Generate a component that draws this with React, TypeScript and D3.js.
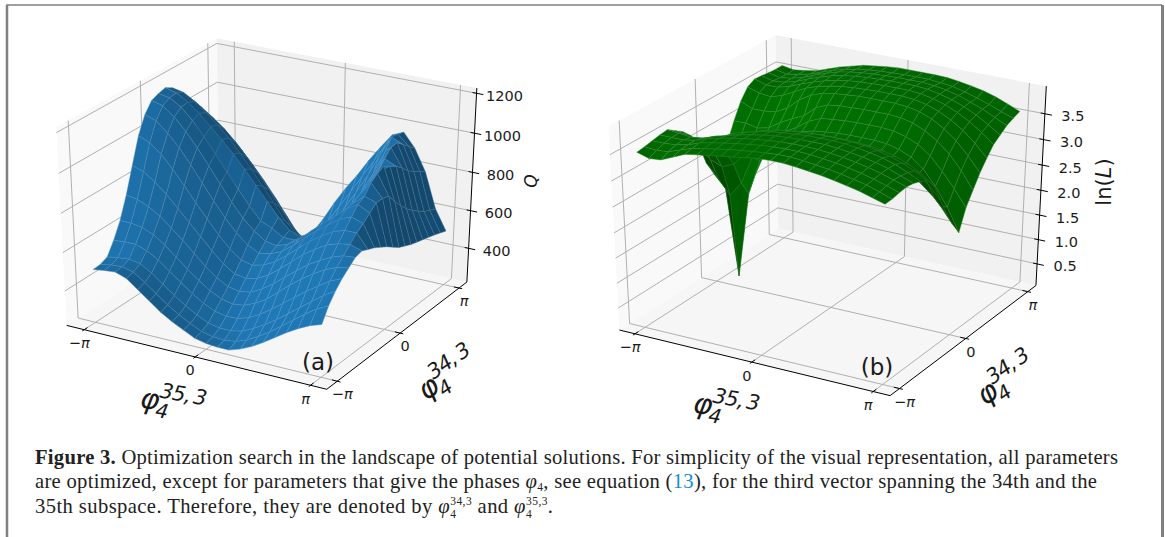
import React from "react";
import * as d3 from "d3";

// surface heights, one row per phi34 step (front to back), one column per phi35 step
const qRows = [
  [497, 505, 510, 490, 445, 400, 355, 320, 290, 261, 248, 243, 242, 262, 290, 325, 365, 405, 440, 470, 490],
  [500, 510, 515, 500, 460, 415, 370, 332, 300, 272, 258, 255, 262, 285, 318, 355, 400, 445, 490, 530, 560],
  [515, 525, 530, 520, 485, 440, 395, 355, 320, 292, 280, 280, 292, 320, 355, 395, 440, 485, 530, 575, 610],
  [580, 585, 585, 565, 530, 485, 440, 395, 358, 330, 318, 320, 338, 370, 410, 455, 500, 545, 585, 625, 650],
  [660, 660, 650, 625, 585, 535, 485, 440, 400, 370, 358, 365, 390, 425, 475, 525, 570, 610, 645, 670, 680],
  [770, 760, 735, 700, 650, 600, 545, 490, 445, 412, 400, 410, 440, 480, 530, 575, 620, 655, 685, 705, 710],
  [900, 880, 840, 790, 730, 670, 610, 550, 495, 455, 445, 458, 490, 535, 585, 635, 675, 710, 730, 740, 720],
  [1030, 1005, 960, 895, 825, 750, 680, 610, 550, 505, 490, 505, 535, 580, 630, 680, 720, 755, 775, 775, 705],
  [1115, 1095, 1045, 985, 910, 830, 750, 675, 610, 560, 530, 540, 565, 610, 660, 710, 755, 795, 820, 800, 690],
  [1165, 1150, 1105, 1045, 975, 895, 815, 735, 665, 610, 570, 560, 580, 620, 675, 725, 775, 825, 860, 830, 670],
  [1180, 1170, 1135, 1080, 1010, 935, 855, 780, 705, 640, 615, 580, 580, 610, 660, 715, 770, 830, 880, 860, 650],
  [1190, 1175, 1140, 1095, 1040, 985, 925, 860, 790, 720, 650, 595, 570, 590, 640, 700, 770, 850, 925, 860, 625],
  [1170, 1158, 1125, 1080, 1030, 975, 910, 840, 765, 690, 610, 555, 530, 560, 620, 695, 780, 870, 950, 850, 600],
  [1120, 1105, 1075, 1035, 990, 935, 870, 800, 725, 645, 565, 510, 500, 540, 610, 695, 790, 885, 965, 800, 585],
  [1050, 1040, 1010, 970, 925, 870, 805, 735, 660, 580, 500, 460, 475, 530, 610, 705, 805, 905, 945, 760, 570],
  [950, 940, 915, 880, 835, 785, 720, 650, 575, 495, 430, 420, 465, 535, 625, 725, 835, 950, 925, 720, 560],
  [850, 840, 815, 785, 745, 695, 630, 560, 485, 410, 375, 400, 470, 555, 650, 755, 880, 985, 895, 690, 550],
  [750, 740, 720, 690, 650, 600, 535, 470, 395, 345, 350, 415, 505, 600, 700, 810, 935, 990, 860, 665, 540],
  [650, 640, 625, 600, 560, 510, 450, 390, 335, 325, 385, 470, 570, 665, 765, 880, 985, 960, 835, 640, 530],
  [570, 565, 555, 540, 505, 455, 400, 350, 325, 370, 455, 545, 635, 730, 820, 920, 980, 930, 815, 625, 518],
  [500, 520, 520, 500, 460, 410, 350, 310, 340, 430, 530, 620, 700, 790, 870, 945, 970, 900, 790, 610, 505],
];

const lnLRows = [
  [3.5, 3.43, 3.45, 3.55, 3.65, 3.69, 3.72, 3.76, 3.79, 3.83, 3.86, 3.87, 3.87, 3.85, 3.82, 3.79, 3.75, 3.7, 3.65, 3.58, 3.51],
  [3.52, 3.5, 3.52, 3.6, 3.68, 3.72, 3.76, 3.8, 3.83, 3.86, 3.88, 3.9, 3.9, 3.88, 3.85, 3.82, 3.78, 3.73, 3.68, 3.6, 3.52],
  [3.55, 3.55, 3.57, 3.62, 3.7, 3.75, 3.79, 3.83, 3.86, 3.89, 3.91, 3.92, 3.92, 3.91, 3.88, 3.85, 3.81, 3.76, 3.7, 3.63, 3.55],
  [3.58, 3.58, 3.58, 3.62, 3.7, 3.75, 3.8, 3.84, 3.87, 3.9, 3.92, 3.93, 3.93, 3.92, 3.9, 3.87, 3.83, 3.78, 3.72, 3.65, 3.57],
  [3.6, 3.58, 3.55, 3.58, 3.66, 3.72, 3.78, 3.83, 3.87, 3.9, 3.92, 3.93, 3.93, 3.93, 3.91, 3.88, 3.84, 3.79, 3.73, 3.64, 3.55],
  [3.5, 3.47, 3.42, 3.47, 3.58, 3.68, 3.75, 3.81, 3.85, 3.88, 3.9, 3.92, 3.92, 3.92, 3.91, 3.88, 3.84, 3.79, 3.72, 3.62, 3.5],
  [3.4, 3.28, 3.25, 3.28, 3.4, 3.55, 3.66, 3.75, 3.8, 3.83, 3.85, 3.87, 3.87, 3.87, 3.86, 3.84, 3.8, 3.74, 3.66, 3.56, 3.43],
  [3.25, 3.05, 3.0, 3.05, 3.2, 3.32, 3.42, 3.58, 3.7, 3.73, 3.75, 3.77, 3.77, 3.77, 3.76, 3.74, 3.7, 3.64, 3.55, 3.42, 3.25],
  [3.0, 2.75, 2.65, 2.75, 3.0, 3.15, 3.28, 3.42, 3.53, 3.57, 3.58, 3.6, 3.6, 3.6, 3.58, 3.55, 3.5, 3.42, 3.3, 3.15, 2.9],
  [2.55, 2.3, 2.0, 2.3, 2.85, 3.05, 3.2, 3.3, 3.38, 3.41, 3.43, 3.44, 3.44, 3.44, 3.42, 3.38, 3.3, 3.18, 3.0, 2.8, 2.55],
  [2.25, 2.0, 0.27, 2.0, 2.7, 3.0, 3.18, 3.26, 3.3, 3.33, 3.35, 3.36, 3.36, 3.36, 3.34, 3.3, 3.2, 3.05, 2.82, 2.55, 2.25],
  [2.3, 2.3, 2.0, 2.3, 2.85, 3.05, 3.2, 3.32, 3.38, 3.41, 3.43, 3.44, 3.44, 3.44, 3.42, 3.36, 3.26, 3.08, 2.8, 2.45, 2.0],
  [2.7, 2.75, 2.65, 2.75, 3.0, 3.15, 3.28, 3.44, 3.54, 3.57, 3.59, 3.6, 3.6, 3.6, 3.58, 3.52, 3.42, 3.25, 3.0, 2.72, 2.4],
  [3.05, 3.05, 3.0, 3.05, 3.2, 3.32, 3.42, 3.62, 3.72, 3.75, 3.76, 3.77, 3.77, 3.77, 3.75, 3.7, 3.6, 3.45, 3.25, 2.98, 2.65],
  [3.35, 3.25, 3.25, 3.28, 3.4, 3.6, 3.74, 3.82, 3.86, 3.88, 3.9, 3.9, 3.9, 3.9, 3.88, 3.83, 3.74, 3.6, 3.42, 3.18, 2.9],
  [3.55, 3.48, 3.45, 3.52, 3.64, 3.75, 3.83, 3.88, 3.92, 3.94, 3.95, 3.96, 3.96, 3.96, 3.94, 3.89, 3.81, 3.69, 3.54, 3.34, 3.1],
  [3.63, 3.56, 3.56, 3.62, 3.71, 3.79, 3.86, 3.91, 3.95, 3.97, 3.98, 3.99, 3.99, 3.99, 3.97, 3.92, 3.85, 3.75, 3.62, 3.46, 3.28],
  [3.62, 3.56, 3.58, 3.64, 3.73, 3.81, 3.88, 3.93, 3.96, 3.98, 3.99, 4.0, 4.0, 4.0, 3.98, 3.93, 3.87, 3.78, 3.67, 3.53, 3.38],
  [3.6, 3.55, 3.58, 3.64, 3.73, 3.81, 3.88, 3.92, 3.95, 3.97, 3.98, 3.99, 3.99, 3.99, 3.97, 3.93, 3.87, 3.79, 3.7, 3.59, 3.48],
  [3.59, 3.54, 3.58, 3.63, 3.71, 3.79, 3.85, 3.9, 3.93, 3.95, 3.96, 3.97, 3.97, 3.97, 3.95, 3.92, 3.86, 3.79, 3.71, 3.62, 3.54],
  [3.59, 3.55, 3.58, 3.62, 3.7, 3.78, 3.84, 3.9, 3.93, 3.96, 3.98, 3.98, 3.98, 3.98, 3.97, 3.94, 3.9, 3.85, 3.78, 3.69, 3.59],
];

const phaseTicks = [-Math.PI, 0, Math.PI];
const phaseTickLabels = ["−π", "0", "π"];
const qTicks = [400, 600, 800, 1000, 1200];
const lnLTicks = [0.5, 1, 1.5, 2, 2.5, 3, 3.5];

// same view as mplot3d: elev 30, azim -60, dist 10, on the unit box
const proj = (u: number, v: number, w: number) => {
  const dx = u - 0.5, dy = v - 0.5, dz = w - 0.5;
  const xv = 0.866 * dx + 0.5 * dy;
  const yv = -0.25 * dx + 0.433 * dy + 0.866 * dz;
  const zv = 0.433 * dx - 0.75 * dy + 0.5 * dz;
  const p = 10 / (10 - zv);
  return { x: xv * p, y: yv * p, depth: zv };
};

const fmtTick = (d: number) => (Number.isInteger(d) && d < 10 ? d.toFixed(1) : String(d));

const PiLabel = ({ label, x, y }: { label: string; x: number; y: number }) => (
  <text x={x} y={y} textAnchor="middle" dominantBaseline="central" fontSize={14.5} fill="#1a1a1a" fontFamily="DejaVu Sans">
    {label.startsWith("−") ? "−" : ""}
    {label.includes("π") ? <tspan fontStyle="italic">π</tspan> : label}
  </text>
);

const PhiLabel = ({ x, y, rot, sup }: { x: number; y: number; rot: number; sup: string }) => (
  <g transform={`translate(${x},${y}) rotate(${rot})`} fontFamily="DejaVu Sans" fontStyle="italic" fill="#1a1a1a">
    <text fontSize={29}>φ</text>
    <text x={17} y={7} fontSize={20}>4</text>
    <text x={18} y={-13} fontSize={21} letterSpacing={-0.9}>{sup}</text>
  </g>
);

type PanelProps = {
  rows: number[][];
  color: string;
  dim: number;
  zTicks: number[];
  wRange: [number, number]; // box height of first and last z tick
  boxRange: [number, number]; // where -pi and pi sit along the box
  xRange: [number, number];
  yRange: [number, number];
  shadeScale: number;
  tag: string;
  tagPos: [number, number];
  zLabel: React.ReactNode;
  xLabelPos: [number, number];
  yLabelPos: [number, number];
};

const Panel = (props: PanelProps) => {
  const { rows, color, dim, zTicks, wRange, boxRange, xRange, yRange, shadeScale, tag, tagPos, zLabel, xLabelPos, yLabelPos } = props;
  const toU = d3.scaleLinear().domain([-Math.PI, Math.PI]).range(boxRange);
  const toW = d3.scaleLinear().domain([zTicks[0], zTicks[zTicks.length - 1]]).range(wRange);
  const sx = d3.scaleLinear().domain([-1, 1]).range(xRange);
  const sy = d3.scaleLinear().domain([-1, 1]).range(yRange);
  const n = rows.length;
  const phase = d3.scaleLinear().domain([0, n - 1]).range([-Math.PI, Math.PI]);

  const pt = (u: number, v: number, w: number) => {
    const p = proj(u, v, w);
    return [sx(p.x), sy(p.y)] as [number, number];
  };
  const line = d3.line();
  const path3 = (pts: number[][]) => line(pts.map((q) => pt(q[0], q[1], q[2])));

  const base = d3.rgb(color);
  const facets: { d: string; fill: string; stroke: string; depth: number }[] = [];
  for (let j = 0; j < n - 1; j++) {
    for (let i = 0; i < n - 1; i++) {
      const corners = [
        [i, j],
        [i + 1, j],
        [i + 1, j + 1],
        [i, j + 1],
      ].map(([a, b]) => [phase(a), phase(b), rows[b][a]]);
      const screen = corners.map((c) => proj(toU(c[0]), toU(c[1]), toW(c[2])));
      // light from the front left, normals in data units
      const ax = corners[2][0] - corners[0][0], ay = corners[2][1] - corners[0][1], az = (corners[2][2] - corners[0][2]) * shadeScale;
      const bx = corners[3][0] - corners[1][0], by = corners[3][1] - corners[1][1], bz = (corners[3][2] - corners[1][2]) * shadeScale;
      const nx = ay * bz - az * by, ny = az * bx - ax * bz, nz = ax * by - ay * bx;
      const len = Math.hypot(nx, ny, nz) || 1;
      const s = (-0.667 * nx - 0.667 * ny + 0.333 * nz) / len;
      const k = dim * (0.52 + 0.504 * ((s + 1) / 2));
      const fill = d3.rgb(base.r * k, base.g * k, base.b * k);
      facets.push({
        d: line(screen.map((p) => [sx(p.x), sy(p.y)] as [number, number])) + "Z",
        fill: fill.formatHex(),
        stroke: d3.interpolateRgb(fill, "#ffffff")(0.2),
        depth: d3.mean(screen, (p) => p.depth) as number,
      });
    }
  }
  facets.sort((p, q) => p.depth - q.depth);

  return (
    <g>
      {/* panes */}
      <path d={path3([[0, 0, 0], [0, 1, 0], [0, 1, 1], [0, 0, 1]]) + "Z"} fill="#f9f9f9" />
      <path d={path3([[0, 1, 0], [1, 1, 0], [1, 1, 1], [0, 1, 1]]) + "Z"} fill="#f1f1f1" />
      <path d={path3([[0, 0, 0], [1, 0, 0], [1, 1, 0], [0, 1, 0]]) + "Z"} fill="#f6f6f6" />
      {/* grid */}
      <g fill="none" stroke="#b0b0b0" strokeWidth={1}>
        {phaseTicks.map((t) => (
          <React.Fragment key={t}>
            <path d={path3([[toU(t), 0, 0], [toU(t), 1, 0], [toU(t), 1, 1]]) as string} />
            <path d={path3([[1, toU(t), 0], [0, toU(t), 0], [0, toU(t), 1]]) as string} />
          </React.Fragment>
        ))}
        {zTicks.map((t) => (
          <path key={t} d={path3([[0, 0, toW(t)], [0, 1, toW(t)], [1, 1, toW(t)]]) as string} />
        ))}
      </g>
      {/* axes */}
      <g fill="none" stroke="#000" strokeWidth={1}>
        <path d={path3([[0, 0, 0], [1, 0, 0], [1, 1, 0], [1, 1, 1]]) as string} />
        {phaseTicks.map((t) => (
          <React.Fragment key={t}>
            <path d={path3([[toU(t), -0.012, 0], [toU(t), 0.02, 0]]) as string} />
            <path d={path3([[1.012, toU(t), 0], [0.98, toU(t), 0]]) as string} />
          </React.Fragment>
        ))}
        {zTicks.map((t) => (
          <path key={t} d={path3([[0.985, 1, toW(t)], [1.025, 1, toW(t)]]) as string} />
        ))}
      </g>
      {/* surface, far facets first */}
      <g>
        {facets.map((f, i) => (
          <path key={i} d={f.d} fill={f.fill} stroke={f.stroke} strokeWidth={0.45} strokeLinejoin="round" />
        ))}
      </g>
      {/* tick labels */}
      {phaseTicks.map((t, i) => {
        const a = pt(toU(t), 0, 0);
        const b = pt(1, toU(t), 0);
        return (
          <React.Fragment key={t}>
            <PiLabel label={phaseTickLabels[i]} x={a[0] - 5} y={a[1] + 13.5} />
            <PiLabel label={phaseTickLabels[i]} x={b[0] + 5} y={b[1] + 13} />
          </React.Fragment>
        );
      })}
      {zTicks.map((t) => {
        const a = pt(1, 1, toW(t));
        return (
          <text key={t} x={a[0] + 28} y={a[1] + 2.5} textAnchor="middle" dominantBaseline="central" fontSize={14.5} fill="#1a1a1a" fontFamily="DejaVu Sans">
            {fmtTick(t)}
          </text>
        );
      })}
      {zLabel}
      <PhiLabel x={xLabelPos[0]} y={xLabelPos[1]} rot={10} sup={"35,\u20093"} />
      <PhiLabel x={yLabelPos[0]} y={yLabelPos[1]} rot={-35} sup={"34,\u20093"} />
      <text x={tagPos[0]} y={tagPos[1]} textAnchor="middle" fontSize={23} fontFamily="DejaVu Sans" fill="#1a1a1a">
        {tag}
      </text>
    </g>
  );
};

const captionProps = { fontFamily: "Liberation Serif", fontSize: 20.6, fill: "#222" };

const App = () => (
  <svg width={1165} height={537} style={{ position: "absolute", left: 0, top: 0, display: "block", background: "#fff" }}>
    <path d="M7 537V5H1162" fill="none" stroke="#808080" strokeWidth={1.5} />
    <line x1={7} y1={5} x2={7} y2={537} stroke="#808080" strokeWidth={2.5} />
    <line x1={1162.5} y1={5} x2={1162.5} y2={537} stroke="#808080" strokeWidth={3} />
    <Panel
      rows={qRows}
      color="#1f77b4"
      dim={1}
      zTicks={qTicks}
      wRange={[0.181, 0.974]}
      boxRange={[0.07, 0.94]}
      xRange={[-30.3, 570.1]}
      yRange={[434.1, -18.5]}
      shadeScale={1 / 150}
      tag="(a)"
      tagPos={[318, 370]}
      xLabelPos={[139, 407]}
      yLabelPos={[426, 401]}
      zLabel={
        <text transform="translate(537,181) rotate(-90)" textAnchor="middle" fontSize={17} fontStyle="italic" fontFamily="DejaVu Sans" fill="#1a1a1a">
          Q
        </text>
      }
    />
    <Panel
      rows={lnLRows}
      color="#008000"
      dim={0.93}
      zTicks={lnLTicks}
      wRange={[0.113, 0.867]}
      boxRange={[0.06, 0.94]}
      xRange={[518.4, 1143.4]}
      yRange={[441.7, -23.3]}
      shadeScale={1}
      tag="(b)"
      tagPos={[877, 375]}
      xLabelPos={[692, 412]}
      yLabelPos={[985, 406]}
      zLabel={
        <text transform="translate(1111,182) rotate(-90)" textAnchor="middle" fontSize={21} fontFamily="DejaVu Sans" fill="#1a1a1a">
          ln(<tspan fontStyle="italic">L</tspan>)
        </text>
      }
    />
    <text x={35} y={464} {...captionProps} textLength={1083}>
      <tspan fontWeight="bold">Figure 3.</tspan>
      {"   Optimization search in the landscape of potential solutions. For simplicity of the visual representation, all parameters"}
    </text>
    <text x={35} y={488} {...captionProps} textLength={1062}>
      {"are optimized, except for parameters that give the phases "}
      <tspan fontStyle="italic">φ</tspan>
      <tspan dy={3} fontSize={11.5}>4</tspan>
      <tspan dy={-3}>{", see equation ("}</tspan>
      <tspan fill="#0f8ccf">13</tspan>
      {"), for the third vector spanning the 34th and the"}
    </text>
    <text x={35} y={513} {...captionProps} textLength={518}>
      {"35th subspace. Therefore, they are denoted by "}
      <tspan fontStyle="italic">φ</tspan>
      <tspan dy={5} fontSize={11.5}>4</tspan>
      <tspan dy={-13} dx={-6} fontSize={11.5}>34,3</tspan>
      <tspan dy={8}>{" and "}</tspan>
      <tspan fontStyle="italic">φ</tspan>
      <tspan dy={5} fontSize={11.5}>4</tspan>
      <tspan dy={-13} dx={-6} fontSize={11.5}>35,3</tspan>
      <tspan dy={8}>.</tspan>
    </text>
  </svg>
);

export default App;
